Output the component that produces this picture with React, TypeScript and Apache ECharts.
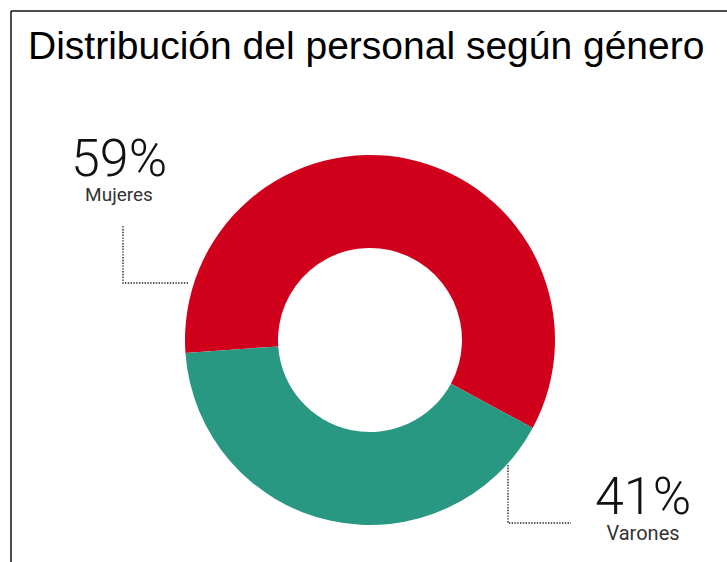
import React, { useEffect, useRef } from "react";
import * as echarts from "echarts";

const categories = ["Mujeres", "Varones"];
const values = [59, 41];
const sliceColors = ["#d0001c", "#289883"];
const titleText = "Distribución del personal según género";

export default function App() {
  const ref = useRef<HTMLDivElement>(null);
  useEffect(() => {
    if (!ref.current) return;
    const chart = echarts.init(ref.current, undefined, { renderer: "svg" });
    const labelPos = [
      { x: 119, y: 132, line: [[188, 283], [123, 283], [123, 226]] },
      { x: 643, y: 470, line: [[508, 465], [508, 523], [571, 523]] },
    ];
    const nameSizes = [19, 20];
    chart.setOption({
      animation: false,
      backgroundColor: "#ffffff",
      title: {
        text: titleText,
        left: 23,
        top: 21,
        textStyle: {
          fontFamily: "Liberation Sans, Arial, sans-serif",
          fontSize: 39,
          fontWeight: "normal",
          color: "#000",
        },
      },
      graphic: [
        { type: "line", shape: { x1: 11, y1: 11, x2: 727, y2: 11 }, style: { stroke: "#111", lineWidth: 1.5 } },
        { type: "line", shape: { x1: 11, y1: 11, x2: 11, y2: 562 }, style: { stroke: "#111", lineWidth: 1.5 } },
      ],
      series: [
        {
          type: "pie",
          center: [370, 340],
          radius: [92, 185],
          startAngle: 184,
          clockwise: true,
          silent: true,
          data: categories.map((c, i) => ({
            name: c,
            value: values[i],
            itemStyle: { color: sliceColors[i] },
            label: {
              rich: {
                n: {
                  fontFamily: "Roboto, sans-serif",
                  fontSize: nameSizes[i],
                  lineHeight: nameSizes[i] + 1,
                  color: "#333",
                  align: "center",
                },
              },
            },
          })),
          label: {
            show: true,
            formatter: (p: any) => `{v|${p.value}%}\n{n|${p.name}}`,
            align: "center",
            rich: {
              v: {
                fontFamily: "Roboto, sans-serif",
                fontWeight: 300,
                fontSize: 52,
                lineHeight: 52,
                color: "#111",
                align: "center",
              },
              n: {
                fontFamily: "Roboto, sans-serif",
                fontSize: 19,
                lineHeight: 20,
                color: "#333",
                align: "center",
              },
            },
          },
          labelLine: {
            show: true,
            lineStyle: { color: "#222", type: "dotted", width: 1.4 },
          },
          labelLayout: (params: any) => {
            const p = labelPos[params.dataIndex];
            return {
              x: p.x,
              y: p.y,
              align: "center",
              verticalAlign: "top",
              labelLinePoints: p.line,
            };
          },
        },
      ],
    });
    return () => chart.dispose();
  }, []);
  return (
    <div
      ref={ref}
      style={{ position: "absolute", left: 0, top: 0, width: 727, height: 562 }}
    />
  );
}
